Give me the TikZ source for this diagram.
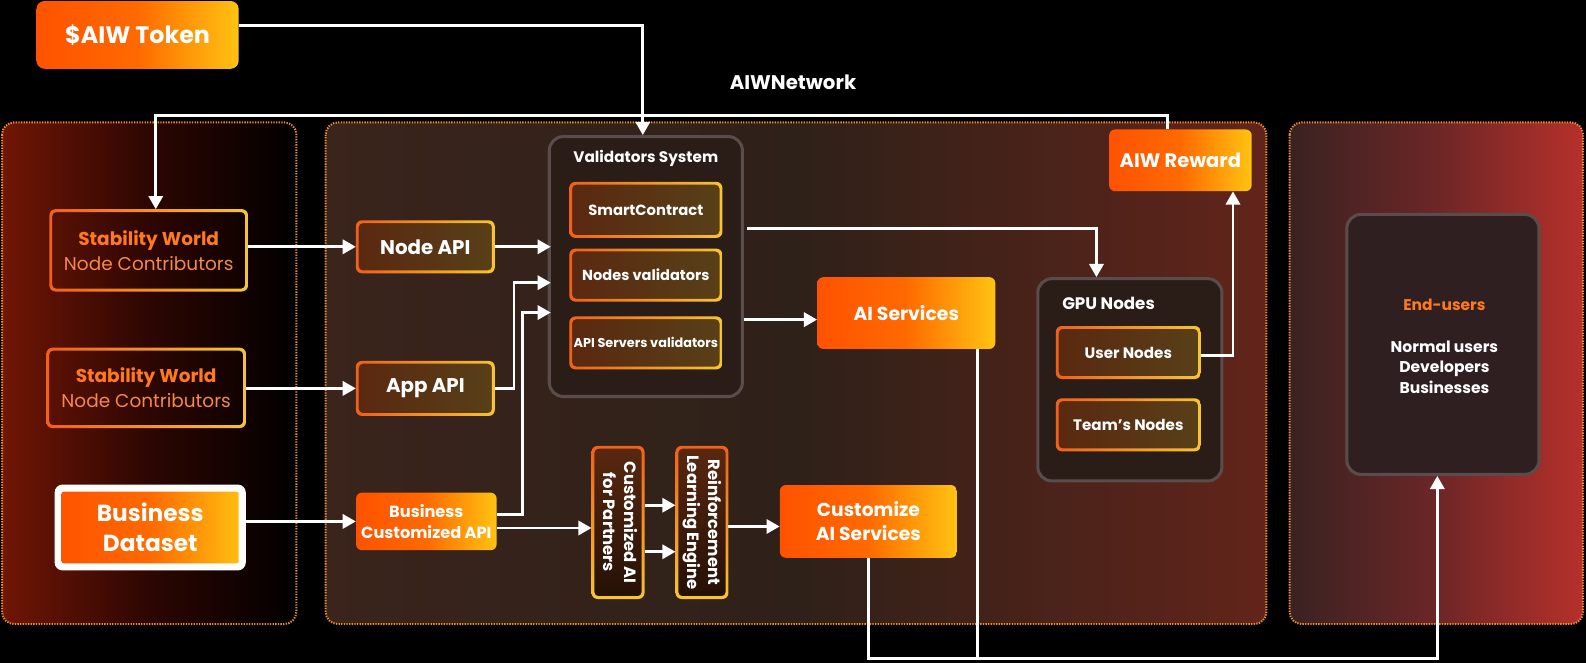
\documentclass[tikz,border=0pt]{standalone}
\usepackage{fontspec}
\setmainfont{Poppins}
\usepackage{graphicx}
\usetikzlibrary{arrows.meta}
\definecolor{oL}{HTML}{FF5200}
\definecolor{oM}{HTML}{FF6A00}
\definecolor{oR}{HTML}{FFC312}
\definecolor{bdL}{HTML}{F0601A}
\definecolor{bdR}{HTML}{F8C430}
\definecolor{dkL}{HTML}{5A2810}
\definecolor{dkR}{HTML}{584018}
\definecolor{swo}{HTML}{FF7A1E}
\definecolor{swo2}{HTML}{F3894A}
\definecolor{grayb}{HTML}{5A4C4A}
\definecolor{contf}{HTML}{2A1D17}
\definecolor{pb}{HTML}{EE8A30}
\newcommand\gring[2]{\shade[even odd rule, rounded corners=6pt, #2] (#1.south west) rectangle (#1.north east) [rounded corners=4pt] ([shift={(2.8pt,2.8pt)}]#1.south west) rectangle ([shift={(-2.8pt,-2.8pt)}]#1.north east);}
\tikzset{
  base/.style={align=center, inner sep=0pt, text=white},
  obox/.style={base, rounded corners=6pt, left color=oL, right color=oR, middle color=oM},
  dbox/.style={base, rounded corners=6pt, left color=dkL, right color=dkR},
  vbox/.style={base, rounded corners=6pt, top color=dkL, bottom color=black!60!dkL},
  cont/.style={draw=grayb, line width=3pt, fill=contf, rounded corners=14pt, inner sep=0pt},
  panel/.style={draw=pb, line width=2pt, dash pattern=on 1.3pt off 1.3pt, rounded corners=12pt},
  ringLR/.style={left color=bdL, right color=bdR},
  ringTB/.style={top color=bdL, bottom color=bdR},
  arr/.style={draw=white, line width=2.8pt, -{Triangle[length=13pt,width=14pt]}},
  wline/.style={draw=white, line width=2.8pt},
}
\begin{document}
\begin{tikzpicture}[x=1pt,y=-1pt]
\fill[black] (0,0) rectangle (1568,655);
\useasboundingbox (0,0) rectangle (1568,655);
% panels
\draw[panel, left color={rgb,255:red,112;green,22;blue,5}, right color=black, middle color={rgb,255:red,45;green,6;blue,2}] (2,121) rectangle (293,617);
\draw[panel, left color={rgb,255:red,58;green,36;blue,28}, right color={rgb,255:red,98;green,36;blue,26}, middle color={rgb,255:red,46;green,33;blue,25}] (322,121) rectangle (1252,617);
\draw[panel, left color={rgb,255:red,58;green,34;blue,34}, right color={rgb,255:red,182;green,48;blue,42}, middle color={rgb,255:red,108;green,38;blue,38}] (1275,121) rectangle (1565,617);
% containers
\node[cont, minimum width=191pt, minimum height=257pt] (VS) at (638.5,263.5) {};
\node[cont, minimum width=182pt, minimum height=200pt] (GPU) at (1117,375.5) {};
\node[cont, minimum width=190pt, minimum height=257pt, fill={rgb,255:red,48;green,31;blue,32}] (EU) at (1426.5,340.5) {};
% top
\node[obox, minimum width=200pt, minimum height=67pt, rounded corners=8pt, font=\fontsize{23.5}{27}\selectfont\bfseries] (tok) at (136,34.5) {\$AIW Token};
\node[base, font=\fontsize{19.5}{22}\selectfont\bfseries] (net) at (784,81) {AIWNetwork};
% left panel
\node[base, text=swo2, minimum width=196pt, minimum height=81pt, font=\fontsize{18.3}{25}\selectfont] (SW1) at (147,247.5) {{\bfseries\color{swo}Stability World}\\Node Contributors};
\gring{SW1}{ringLR}
\node[base, text=swo2, minimum width=197pt, minimum height=79pt, font=\fontsize{18.3}{25}\selectfont] (SW2) at (144.5,383.5) {{\bfseries\color{swo}Stability World}\\Node Contributors};
\gring{SW2}{ringLR}
\node[base, fill=white, rounded corners=8pt, minimum width=189pt, minimum height=85pt, font=\fontsize{23}{30}\selectfont\bfseries,
  path picture={\shade[left color=oL, right color=oR, middle color=oM, rounded corners=2pt] ([shift={(7pt,7pt)}]path picture bounding box.south west) rectangle ([shift={(-7pt,-7pt)}]path picture bounding box.north east);}] (BD) at (148.5,521.5) {Business\\Dataset};
% APIs
\node[dbox, minimum width=137pt, minimum height=52pt, font=\fontsize{19.6}{22}\selectfont\bfseries] (NodeAPI) at (420.5,244) {Node API};
\gring{NodeAPI}{ringLR}
\node[dbox, minimum width=137pt, minimum height=54pt, font=\fontsize{19.6}{22}\selectfont\bfseries] (AppAPI) at (420.5,384) {App API};
\gring{AppAPI}{ringLR}
\node[obox, minimum width=139pt, minimum height=57pt, font=\fontsize{16}{21}\selectfont\bfseries] (BCAPI) at (421.5,515.5) {Business\\Customized API};
% validators
\node[base, font=\fontsize{15.1}{17}\selectfont\bfseries] (VSt) at (638.5,157) {Validators System};
\node[dbox, minimum width=151pt, minimum height=55pt, font=\fontsize{14.6}{16}\selectfont\bfseries] (SC) at (638.5,207.5) {SmartContract};
\gring{SC}{ringLR}
\node[dbox, minimum width=151pt, minimum height=52pt, font=\fontsize{14.4}{16}\selectfont\bfseries] (NV) at (638.5,272) {Nodes validators};
\gring{NV}{ringLR}
\node[dbox, minimum width=151pt, minimum height=52pt, font=\fontsize{12.7}{15}\selectfont\bfseries] (ASV) at (638.5,339) {API Servers validators};
\gring{ASV}{ringLR}
% services
\node[obox, minimum width=176pt, minimum height=71pt, font=\fontsize{18.6}{23}\selectfont\bfseries] (AIS) at (896,309.5) {AI Services};
\node[obox, minimum width=175pt, minimum height=72pt, font=\fontsize{18.5}{24}\selectfont\bfseries] (CAS) at (858.5,515.5) {Customize\\AI Services};
\node[vbox, minimum width=52pt, minimum height=151pt, font=\fontsize{16.2}{20}\selectfont\bfseries] (CAI) at (611,516.5) {\rotatebox{-90}{\begin{tabular}{@{}c@{}}Customized AI\\for Partners\end{tabular}}};
\gring{CAI}{ringTB}
\node[vbox, minimum width=52pt, minimum height=151pt, font=\fontsize{16.2}{21}\selectfont\bfseries] (RLE) at (694,516.5) {\rotatebox{-90}{\begin{tabular}{@{}c@{}}Reinforcement\\Learning Engine\end{tabular}}};
\gring{RLE}{ringTB}
% reward and gpu
\node[obox, minimum width=141pt, minimum height=61pt, font=\fontsize{19.3}{22}\selectfont\bfseries] (REW) at (1167,158.5) {AIW Reward};
\node[base, anchor=west, font=\fontsize{16.5}{19}\selectfont\bfseries] (GPUt) at (1050,300) {GPU Nodes};
\node[dbox, minimum width=143pt, minimum height=52pt, font=\fontsize{15}{17}\selectfont\bfseries] (UN) at (1115.5,348.5) {User Nodes};
\gring{UN}{ringLR}
\node[dbox, minimum width=143pt, minimum height=52pt, font=\fontsize{15}{17}\selectfont\bfseries] (TN) at (1115.5,420) {Team’s Nodes};
\gring{TN}{ringLR}
% end users
\node[base, text=swo, font=\fontsize{15.3}{18}\selectfont\bfseries] (EUt) at (1428,301) {End-users};
\node[base, font=\fontsize{15.4}{20.6}\selectfont\bfseries] (EUl) at (1428,363) {Normal users\\Developers\\Businesses};
% connectors
\draw[arr] ([yshift=9pt]tok.east) -| ([xshift=-3pt]VS.north);
\draw[arr] ([xshift=-13pt]REW.north) -- ++(0,-13.5) -| ([xshift=7pt]SW1.north);
\draw[arr] (SW1.east |- NodeAPI.west) -- (NodeAPI.west);
\draw[arr] (SW2.east |- AppAPI.west) -- (AppAPI.west);
\draw[arr] (BD.east |- BCAPI.west) -- (BCAPI.west);
\draw[arr] (NodeAPI.east) -- ([xshift=3pt]NodeAPI.east -| VS.west);
\draw[arr] (AppAPI.east) -- ++(19,0) |- ([yshift=-16pt,xshift=3pt]VS.west);
\draw[arr] ([yshift=7pt]BCAPI.east) -- ++(25,0) |- ([yshift=-45.5pt,xshift=3pt]VS.west);
\draw[arr] ([yshift=-6.5pt]BCAPI.east) -- ([yshift=-6.5pt]BCAPI.east -| CAI.west);
\draw[arr] ([yshift=17pt]CAI.east) -- ([yshift=17pt]CAI.east -| RLE.west);
\draw[arr] ([yshift=-29pt]CAI.east) -- ([yshift=-29pt]CAI.east -| RLE.west);
\draw[arr] ([yshift=-4pt]RLE.east) -- ([yshift=-4pt]RLE.east -| CAS.west);
\draw[arr] ([yshift=-52.5pt]VS.east) -- ([yshift=-52.5pt]VS.east -| AIS.west);
\draw[arr] ([xshift=3pt,yshift=37.5pt]VS.east) -| ([xshift=-33pt]GPU.north);
\draw[arr] ([yshift=-3pt]UN.east) -| ([xshift=52pt]REW.south);
\coordinate (bj) at (858.5,651);
\draw[arr] (CAS.south) -- (bj) -| ([xshift=-5.5pt]EU.south);
\draw[wline] ([xshift=70pt]AIS.south) -- ([xshift=70pt]AIS.south |- bj);
\end{tikzpicture}
\end{document}
